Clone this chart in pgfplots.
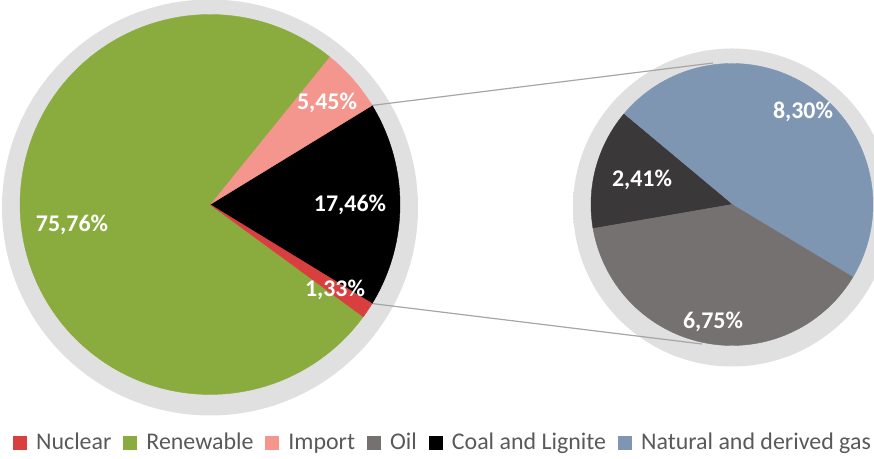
\documentclass[border=0pt]{standalone}
\usepackage{pgfplots}
\usepackage{pgfplotstable}
\pgfplotsset{compat=1.18}
\usepackage{fontspec}
\setmainfont{Carlito}

\definecolor{cNuc}{HTML}{DA3F3F}
\definecolor{cRen}{HTML}{8AAC3E}
\definecolor{cImp}{HTML}{F4968D}
\definecolor{cOther}{HTML}{000000}
\definecolor{cOil}{HTML}{767171}
\definecolor{cCoal}{HTML}{3A3838}
\definecolor{cGas}{HTML}{7F96B3}
\definecolor{legendgray}{HTML}{595959}
\definecolor{conn}{HTML}{A6A6A6}

\pgfdeclareradialshading{pieshadow}{\pgfpoint{0bp}{0bp}}{color(0bp)=(black!12); color(31bp)=(black!12); color(32bp)=(black!10); color(33.2bp)=(black!6); color(34.3bp)=(black!3); color(35.3bp)=(white); color(100bp)=(white)}

\pgfplotstableread{
share value
Other 17.46
Import 5.45
Renewable 75.76
Nuclear 1.33
}\mainpie
\pgfplotstableread{
share value
Gas 8.30
Coal 2.41
Oil 6.75
}\subpie

\pgfplotstablegetelem{0}{value}\of\mainpie \let\vOther\pgfplotsretval
\pgfplotstablegetelem{1}{value}\of\mainpie \let\vImport\pgfplotsretval
\pgfplotstablegetelem{2}{value}\of\mainpie \let\vRen\pgfplotsretval
\pgfplotstablegetelem{3}{value}\of\mainpie \let\vNuc\pgfplotsretval
\pgfplotstablegetelem{0}{value}\of\subpie \let\vGas\pgfplotsretval
\pgfplotstablegetelem{1}{value}\of\subpie \let\vCoal\pgfplotsretval
\pgfplotstablegetelem{2}{value}\of\subpie \let\vOil\pgfplotsretval
\pgfmathsetmacro\aA{-1.8*\vOther}
\pgfmathsetmacro\aB{\aA+3.6*\vOther}
\pgfmathsetmacro\aC{\aB+3.6*\vImport}
\pgfmathsetmacro\aD{\aC+3.6*\vRen}
\pgfmathsetmacro\aE{\aD+3.6*\vNuc}
\pgfmathsetmacro\subtot{\vGas+\vCoal+\vOil}
\pgfmathsetmacro\sA{-31}
\pgfmathsetmacro\sB{\sA+360*\vGas/\subtot}
\pgfmathsetmacro\sC{\sB+360*\vCoal/\subtot}
\pgfmathsetmacro\sD{\sC+360*\vOil/\subtot}

\newcommand{\wedgeplot}[6]{%
  \addplot[forget plot, fill=#6, draw=#6, line width=0.2bp, domain=#4:#5, samples=120, variable=\t]
    ({#1+#3*cos(\t)},{#2+#3*sin(\t)}) -- (axis cs:#1,#2) -- cycle;}

\begin{document}%
\begin{tikzpicture}
\begin{axis}[
  x=0.5bp, y=0.5bp, xmin=0, xmax=874, ymin=0, ymax=459,
  hide axis, clip=false,
  legend columns=6,
  legend style={at={(axis cs:443.5,16)}, anchor=center, draw=none, fill=none,
    font=\fontsize{12}{14}\selectfont, text=legendgray,
    /tikz/every even column/.append style={column sep=4.5bp},
    nodes={inner sep=1.5bp}},
  legend image code/.code={\fill[#1] (0bp,-3.5bp) rectangle (7bp,3.5bp); \path (10bp,0bp);},
]
\coordinate (bl) at (axis cs:0,0);
\coordinate (tr) at (axis cs:874,459);
% legend
\addlegendimage{fill=cNuc, draw=none}\addlegendentry{Nuclear}
\addlegendimage{fill=cRen, draw=none}\addlegendentry{Renewable}
\addlegendimage{fill=cImp, draw=none}\addlegendentry{Import}
\addlegendimage{fill=cOil, draw=none}\addlegendentry{Oil}
\addlegendimage{fill=cOther, draw=none}\addlegendentry{Coal and Lignite}
\addlegendimage{fill=cGas, draw=none}\addlegendentry{Natural and derived gas}
% soft shadows
\shade[shading=pieshadow] (axis cs:210,251.5) circle [radius=104bp];
\shade[shading=pieshadow] (axis cs:732,251.5) circle [radius=79.5bp];
% connectors
\draw[conn, line width=0.6bp] (axis cs:{210+190*cos(\aB)},{254.5+190*sin(\aB)}) -- (axis cs:713,396);
\draw[conn, line width=0.6bp] (axis cs:{210+190*cos(\aA)},{254.5+190*sin(\aA)}) -- (axis cs:702,115);
% main pie
\wedgeplot{210}{254.5}{190}{\aA}{\aB}{cOther}
\wedgeplot{210}{254.5}{190}{\aB}{\aC}{cImp}
\wedgeplot{210}{254.5}{190}{\aC}{\aD}{cRen}
\wedgeplot{210}{254.5}{190}{\aD}{\aE}{cNuc}
% secondary pie
\wedgeplot{732}{254.5}{141}{\sA}{\sB}{cGas}
\wedgeplot{732}{254.5}{141}{\sB}{\sC}{cCoal}
\wedgeplot{732}{254.5}{141}{\sC}{\sD}{cOil}
% labels
\begin{scope}[every node/.style={text=white, font=\fontsize{12}{14}\selectfont\bfseries, inner sep=0pt}]
\node at (axis cs:72,234) {75,76\%};
\node at (axis cs:327,356) {5,45\%};
\node at (axis cs:350,254) {17,46\%};
\node at (axis cs:335,169) {1,33\%};
\node at (axis cs:803,347) {8,30\%};
\node at (axis cs:642,279) {2,41\%};
\node at (axis cs:713,137) {6,75\%};
\end{scope}
\end{axis}
\pgfresetboundingbox
\useasboundingbox (bl) rectangle (tr);
\end{tikzpicture}%
\end{document}
